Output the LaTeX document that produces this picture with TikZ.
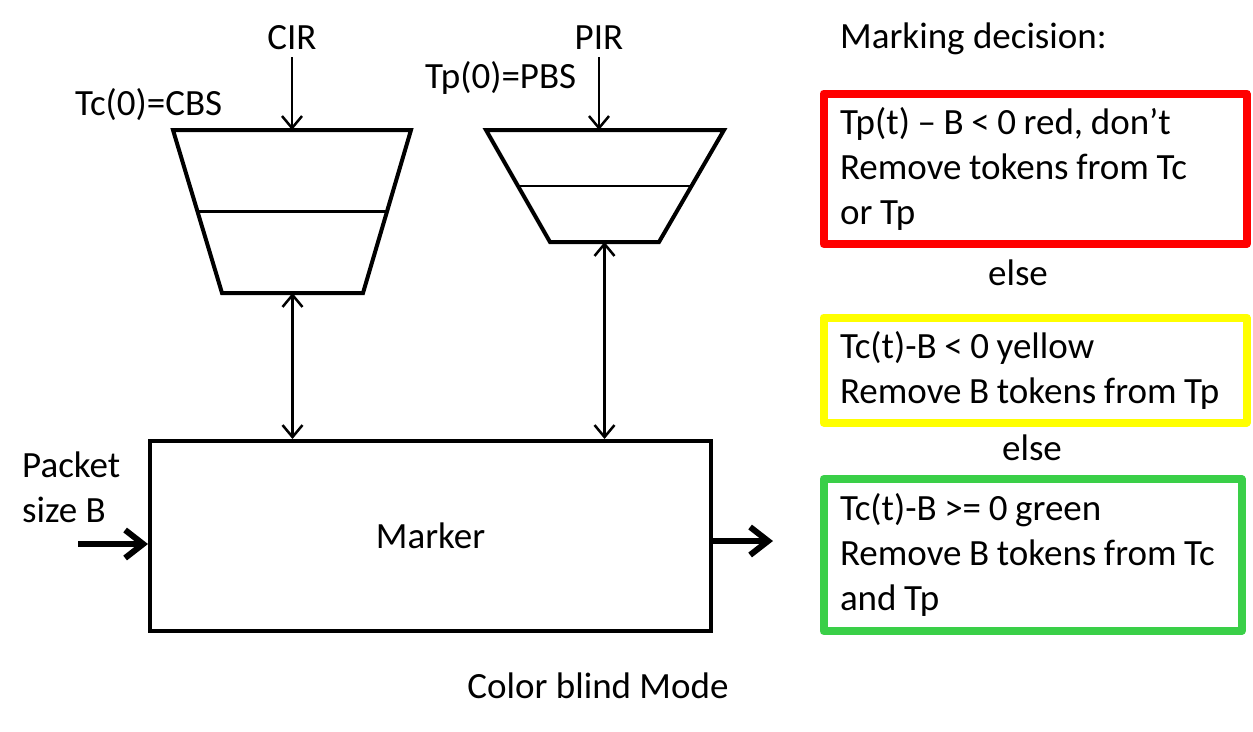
\documentclass[tikz,border=0pt]{standalone}
\usepackage{fontspec}
\setmainfont{Carlito}
\usetikzlibrary{arrows.meta,calc}
\definecolor{boxred}{RGB}{255,0,0}
\definecolor{boxyellow}{RGB}{255,255,0}
\definecolor{boxgreen}{RGB}{58,207,72}
\newcommand\tightspacing{\spaceskip=7.6pt\relax\xspaceskip=7.6pt\relax}
\begin{document}
\begin{tikzpicture}[x=1pt,y=-1pt,
  every node/.style={font=\fontsize{37}{45}\selectfont, inner sep=0pt},
  lbl/.style={anchor=base},
  lblw/.style={anchor=base west},
  bucket/.style={line width=4pt, line join=miter},
  midline/.style={line width=2.5pt},
  thinarrow/.style={line width=2.5pt, -{Straight Barb[length=12pt,width=20pt]}},
  dblarrow/.style={line width=2.5pt, {Straight Barb[length=12pt,width=20pt]}-{Straight Barb[length=12pt,width=20pt]}},
  thickarrow/.style={line width=6pt, -{Straight Barb[length=18pt,width=28pt]}},
  markerbox/.style={draw, line width=4pt, minimum width=561pt, minimum height=190pt},
  decbox/.style={draw, line width=8pt, line join=round, align=left, inner xsep=16.5pt, inner ysep=0pt}
]
\fill[white] (0,0) rectangle (1253,731);
\useasboundingbox (0,0) rectangle (1253,731);

% left bucket (Tc)
\coordinate (ctl) at (173,130);
\coordinate (ctr) at (411,130);
\coordinate (cbr) at (363,293);
\coordinate (cbl) at (222,293);
\draw[bucket] (ctl) -- (ctr) -- (cbr) -- (cbl) -- cycle;
\draw[midline] ($(ctl)!0.5!(cbl)$) -- ($(ctr)!0.5!(cbr)$);
\coordinate (cin) at (292,130);
\coordinate (cout) at (292.5,293);

% right bucket (Tp)
\coordinate (ptl) at (486,130);
\coordinate (ptr) at (724,130);
\coordinate (pbr) at (659,242);
\coordinate (pbl) at (550,242);
\draw[bucket] (ptl) -- (ptr) -- (pbr) -- (pbl) -- cycle;
\draw[midline] ($(ptl)!0.5!(pbl)$) -- ($(ptr)!0.5!(pbr)$);
\coordinate (pin) at (599,130);
\coordinate (pout) at (604.5,242);

% labels
\node[lbl] (cir) at (292,49) {CIR};
\node[lbl] (pir) at (599,49) {PIR};
\node[lblw] (tc0) at (75,115) {Tc(0)=CBS};
\node[lblw] (tp0) at (425,88) {Tp(0)=PBS};
\node[lblw] (mdec) at (840,48) {Marking decision:};
\node[lblw, align=left] (pkt) at (22,522) {Packet\\size B};
\node[lbl] (cbm) at (598,698) {Color blind Mode};
\node[lbl] (else1) at (1018,285) {else};
\node[lbl] (else2) at (1032,460) {else};

% marker
\node[markerbox] (marker) at (430.5,536) {Marker};

% arrows
\draw[thinarrow, shorten <=8pt] (cir.south) -- (cin);
\draw[thinarrow, shorten <=8pt] (pir.south) -- (pin);
\draw[dblarrow] (cout) -- (cout |- marker.north);
\draw[dblarrow] (pout) -- (pout |- marker.north);
\coordinate (pktin) at (78,544);
\draw[thickarrow] (pktin) -- (pktin -| marker.west);
\coordinate (pktout) at (773,541);
\draw[thickarrow] (pktout -| marker.east) -- (pktout);

% decision boxes
\node[decbox, draw=boxred, minimum width=423pt, minimum height=150.5pt, text width=390pt] (red) at (1035,168.75)
  {\tightspacing\mbox{Tp(t) – B < 0 red, don’t}\\\mbox{Remove tokens from Tc}\\\mbox{or Tp}};
\node[decbox, draw=boxyellow, minimum width=423pt, minimum height=105pt, text width=390pt] (yellow) at (1035,370)
  {\tightspacing\mbox{Tc(t)-B < 0 yellow}\\\mbox{Remove B tokens from Tp}};
\node[decbox, draw=boxgreen, minimum width=418pt, minimum height=152pt, text width=385pt] (green) at (1032.5,555)
  {\tightspacing\mbox{Tc(t)-B >= 0 green}\\\mbox{Remove B tokens from Tc}\\\mbox{and Tp}};
\end{tikzpicture}
\end{document}
